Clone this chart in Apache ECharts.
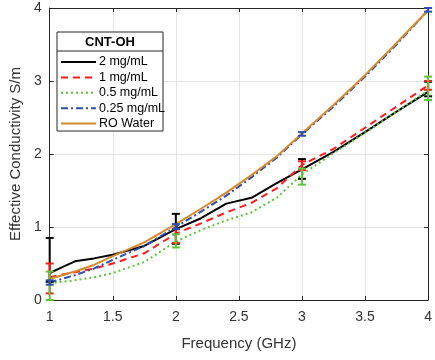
<!DOCTYPE html>
<html><head><meta charset="utf-8">
<script src="https://cdn.jsdelivr.net/npm/echarts@6/dist/echarts.min.js"></script>
<style>html,body{margin:0;padding:0;background:#fff}#c{width:435px;height:360px}</style>
</head><body><div id="c"></div>
<script>
const freq = [1,1.1,1.2,1.35,1.5,1.75,2,2.2,2.4,2.6,2.8,3,3.25,3.5,3.75,4];
const s2mg  = [0.37,0.45,0.53,0.57,0.62,0.74,0.97,1.12,1.32,1.40,1.60,1.79,2.03,2.30,2.58,2.85];
const s1mg  = [0.31,0.35,0.38,0.43,0.50,0.64,0.91,1.05,1.20,1.33,1.53,1.85,2.07,2.36,2.65,2.94];
const s05mg = [0.23,0.25,0.27,0.31,0.37,0.52,0.80,0.96,1.09,1.20,1.40,1.72,2.01,2.29,2.58,2.87];
const s025mg= [0.24,0.29,0.34,0.43,0.55,0.74,1.00,1.21,1.43,1.68,1.95,2.27,2.65,3.06,3.50,3.97];
const roWater=[0.29,0.34,0.39,0.48,0.60,0.79,1.04,1.25,1.47,1.71,1.97,2.28,2.67,3.08,3.52,3.97];
const errX = [1,2,3,4];
const err2mg  = {low:[0.25,0.77,1.66,2.79], high:[0.85,1.18,1.93,2.99]};
const err1mg  = {low:[0.09,0.78,1.78,2.88], high:[0.50,0.97,1.90,3.00]};
const err05mg = {low:[0.00,0.72,1.58,2.74], high:[0.39,0.90,1.80,3.06]};
const err025mg= {low:[0.21,0.97,2.25,3.95], high:[0.27,1.04,2.30,4.00]};
const names = ['2 mg/mL','1 mg/mL','0.5 mg/mL','0.25 mg/mL','RO Water'];
const xTicks = [1,1.5,2,2.5,3,3.5,4];

const colors = ['#000000','#ff1a1a','#5ec43a','#2f4fae','#d9892b'];
const lineTypes = ['solid',[7,5],[2,3],[7,3,2,3],'solid'];
const lineData = [s2mg,s1mg,s05mg,s025mg,roWater];
const errData = [err2mg,err1mg,err05mg,err025mg];

const series = [];
lineData.forEach((arr,i)=>{
  series.push({name:names[i],type:'line',symbol:'none',showSymbol:false,smooth:false,
    data:freq.map((f,k)=>[f,arr[k]]),
    lineStyle:{color:colors[i],width:2,type:lineTypes[i]},itemStyle:{color:colors[i]},z:2+i*0.01});
});
errData.forEach((e,i)=>{
  series.push({type:'custom',name:'err'+i,z:4,
    data:errX.map((x,k)=>[x,e.low[k],e.high[k]]),
    renderItem:function(params,api){
      const x=api.value(0),lo=api.coord([x,api.value(1)]),hi=api.coord([x,api.value(2)]);
      const w=4;
      const st={stroke:colors[i],lineWidth:2};
      return {type:'group',children:[
        {type:'line',shape:{x1:lo[0],y1:lo[1],x2:hi[0],y2:hi[1]},style:st},
        {type:'line',shape:{x1:lo[0]-w,y1:lo[1],x2:lo[0]+w,y2:lo[1]},style:st},
        {type:'line',shape:{x1:hi[0]-w,y1:hi[1],x2:hi[0]+w,y2:hi[1]},style:st}
      ]};
    }});
});

const axisCol='#262626';
const chart=echarts.init(document.getElementById('c'),null,{renderer:'canvas'});
chart.setOption({
  animation:false,
  backgroundColor:'#fff',
  grid:{left:46,right:5,top:8,bottom:60,show:false},
  xAxis:[{type:'value',min:1,max:4,interval:0.5,
    name:'Frequency (GHz)',nameLocation:'middle',nameGap:36,
    nameTextStyle:{fontFamily:'Liberation Sans',fontSize:15,color:'#333'},
    axisLine:{lineStyle:{color:axisCol,width:1}},
    axisTick:{inside:true,length:4,lineStyle:{color:axisCol}},
    axisLabel:{fontFamily:'Liberation Sans',fontSize:14,color:'#333',margin:10},
    splitLine:{show:true,lineStyle:{color:'#e3e3e3',width:1}}},
   {type:'value',position:'top',min:1,max:4,interval:0.5,
    axisLine:{show:true,onZero:false,lineStyle:{color:axisCol,width:1}},
    axisTick:{inside:true,length:4,lineStyle:{color:axisCol}},
    axisLabel:{show:false},splitLine:{show:false}}],
  yAxis:[{type:'value',min:0,max:4,interval:1,
    name:'Effective Conductivity S/m',nameLocation:'middle',nameGap:22,
    nameTextStyle:{fontFamily:'Liberation Sans',fontSize:15,color:'#333'},
    axisLine:{show:true,lineStyle:{color:axisCol,width:1}},
    axisTick:{show:true,inside:true,length:4,lineStyle:{color:axisCol}},
    axisLabel:{fontFamily:'Liberation Sans',fontSize:14,color:'#333',margin:8},
    splitLine:{show:true,lineStyle:{color:'#e3e3e3',width:1}}},
   {type:'value',position:'right',min:0,max:4,interval:1,
    axisLine:{show:true,onZero:false,lineStyle:{color:axisCol,width:1}},
    axisTick:{show:true,inside:true,length:4,lineStyle:{color:axisCol}},
    axisLabel:{show:false},splitLine:{show:false}}],
  legend:{data:names,orient:'vertical',left:60,top:55,padding:0,itemWidth:35,itemHeight:14,itemGap:1.4,
    z:10,itemStyle:{opacity:0},
    textStyle:{fontFamily:'Liberation Sans',fontSize:12.5,color:'#000',padding:[0,0,0,-2],lineHeight:14}},
  graphic:[
    {type:'rect',z:8,shape:{x:57,y:32,width:106,height:99},style:{fill:'#fff',stroke:'#262626',lineWidth:1}},
    {type:'line',z:9,shape:{x1:57,y1:51,x2:163,y2:51},style:{stroke:'#262626',lineWidth:1}},
    {type:'text',z:9,x:110,y:42,style:{text:'CNT-OH',fontFamily:'Liberation Sans',fontWeight:'bold',fontSize:13,fill:'#000',align:'center',verticalAlign:'middle'}}
  ],
  series:series
});
</script></body></html>
